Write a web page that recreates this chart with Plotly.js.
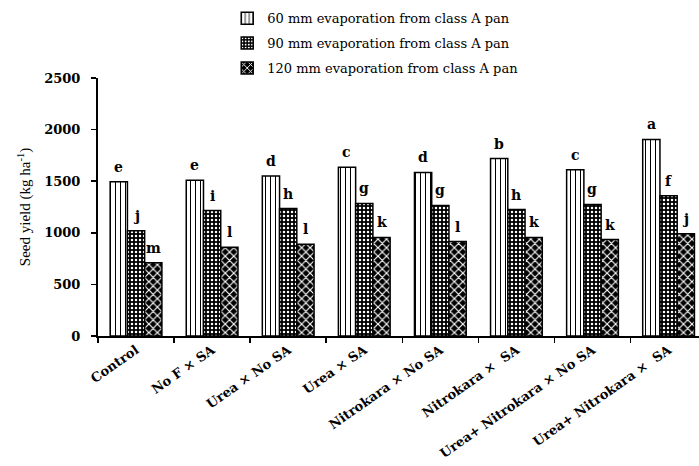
<!DOCTYPE html>
<html>
<head>
<meta charset="utf-8">
<script src="https://cdn.plot.ly/plotly-3.0.1.min.js"></script>
<style>html,body{margin:0;padding:0;background:#fff;}#chart{width:699px;height:466px;}</style>
</head>
<body>
<div id="chart"></div>
<script>
const categories = ["Control", "No F × SA", "Urea × No SA", "Urea × SA", "Nitrokara × No SA", "Nitrokara ×  SA", "Urea+ Nitrokara × No SA", "Urea+ Nitrokara ×  SA"];
const seriesNames = ["60 mm evaporation from class A pan", "90 mm evaporation from class A pan", "120 mm evaporation from class A pan"];
const evap60 = [1495, 1510, 1550, 1635, 1585, 1720, 1610, 1905];
const evap90 = [1020, 1215, 1235, 1285, 1265, 1225, 1275, 1360];
const evap120 = [710, 860, 890, 955, 915, 955, 935, 990];
const letters60 = ["e", "e", "d", "c", "d", "b", "c", "a"];
const letters90 = ["j", "i", "h", "g", "g", "h", "g", "f"];
const letters120 = ["m", "l", "l", "k", "l", "k", "k", "j"];
const yTickVals = [0, 500, 1000, 1500, 2000, 2500];

const values = [evap60, evap90, evap120];
const letters = [letters60, letters90, letters120];
const patterns = [
  {shape: "|", fgcolor: "#000", bgcolor: "#fff", size: 5, solidity: 0.2, fillmode: "replace"},
  {shape: ".", fgcolor: "#fff", bgcolor: "#000", size: 4, solidity: 0.3, fillmode: "replace"},
  {shape: "x", fgcolor: "#fff", bgcolor: "#000", size: 6, solidity: 0.35, fillmode: "replace"}
];
const serif = "DejaVu Serif, Liberation Serif, serif";

const traces = values.map((v, j) => ({
  type: "bar",
  name: seriesNames[j],
  legendgroup: "g" + j,
  x: categories,
  y: v,
  marker: {color: j === 1 ? "#000" : "#fff", line: {color: "#000", width: 1.5}, pattern: patterns[j]},
  hoverinfo: "y"
}));

const annotations = [];
values.forEach((v, j) => {
  v.forEach((val, i) => {
    annotations.push({
      x: categories[i], y: val, xref: "x", yref: "y",
      text: "<b>" + letters[j][i] + "</b>",
      showarrow: false, xshift: (j - 1) * 17.4, yanchor: "bottom", yshift: 5,
      font: {family: serif, size: 14, color: "#000"}
    });
  });
});

const layout = {
  width: 699, height: 466,
  margin: {l: 98, r: 0, t: 78, b: 130},
  paper_bgcolor: "#fff", plot_bgcolor: "#fff",
  barmode: "group", bargap: 0.32, bargroupgap: 0,
  showlegend: true,
  legend: {x: 0.215, xanchor: "left", y: 1.29, yanchor: "top", traceorder: "grouped", tracegroupgap: 5,
           font: {family: serif, size: 13, color: "#000"}, bgcolor: "rgba(0,0,0,0)", itemwidth: 30},
  xaxis: {
    type: "category", range: [-0.5, 7.4], showline: true, linecolor: "#000", linewidth: 1.5,
    ticks: "outside", tickson: "boundaries", ticklen: 5, tickcolor: "#000", tickwidth: 1.5,
    tickangle: -35, tickfont: {family: serif, size: 13, color: "#000", weight: "bold"},
    showgrid: false, zeroline: false
  },
  yaxis: {
    range: [0, 2500], tickvals: yTickVals, showline: true, linecolor: "#000", linewidth: 2,
    ticks: "outside", ticklen: 5, tickcolor: "#000", tickwidth: 1.5, ticklabelstandoff: 8,
    tickfont: {family: serif, size: 13, color: "#000", weight: "bold"},
    showgrid: false, zeroline: false,
    title: {text: "Seed yield (kg ha<sup>-1</sup>)", font: {family: "Liberation Serif, serif", size: 15, color: "#000"}, standoff: 10}
  },
  annotations: annotations
};

Plotly.newPlot("chart", traces, layout, {displayModeBar: false, staticPlot: true});
</script>
</body>
</html>
